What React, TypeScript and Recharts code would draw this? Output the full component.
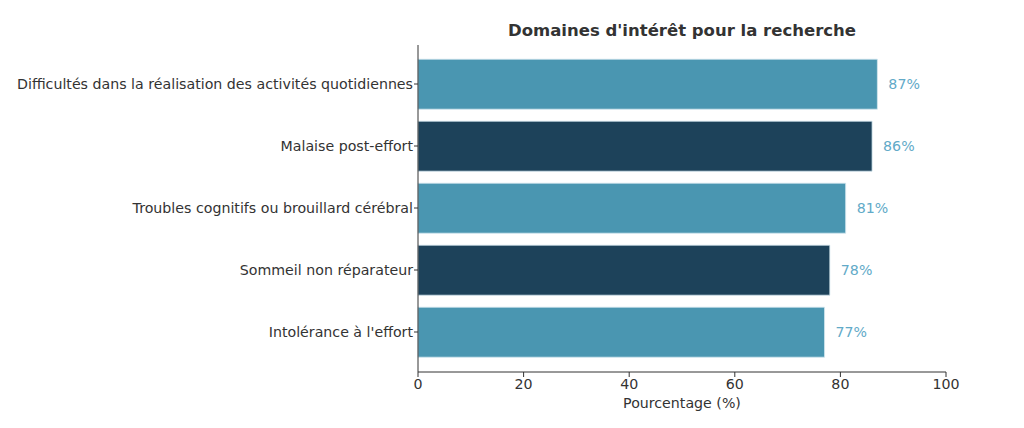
import React from "react";
import { Bar, BarChart, Cell, LabelList, XAxis, YAxis } from "recharts";

const categories = [
  "Difficultés dans la réalisation des activités quotidiennes",
  "Malaise post-effort",
  "Troubles cognitifs ou brouillard cérébral",
  "Sommeil non réparateur",
  "Intolérance à l'effort",
];
const percentages = [87, 86, 81, 78, 77];
const xTicks = [0, 20, 40, 60, 80, 100];

const palette = ["#4a96b1", "#1d425a"];
const font = "DejaVu Sans, sans-serif";

export default function App() {
  const data = categories.map((name, i) => ({ name, value: percentages[i] }));

  return (
    <div style={{ position: "absolute", left: 0, top: 0, width: 1024, height: 428, background: "#fff", fontFamily: font }}>
      <div
        style={{
          position: "absolute",
          left: 418,
          width: 528,
          top: 21,
          textAlign: "center",
          fontSize: 16.5,
          fontWeight: "bold",
          color: "#333",
        }}
      >
        Domaines d'intérêt pour la recherche
      </div>
      <BarChart
        width={1024}
        height={428}
        data={data}
        layout="vertical"
        margin={{ top: 45, right: 78, left: 0, bottom: 0 }}
        barCategoryGap="10%"
      >
        <XAxis
          type="number"
          domain={[0, 100]}
          ticks={xTicks}
          height={56}
          tick={{ fontSize: 14.2, fill: "#333", fontFamily: font }}
          tickSize={5}
          tickMargin={2}
          axisLine={{ stroke: "#333" }}
          tickLine={{ stroke: "#333" }}
          label={{
            value: "Pourcentage (%)",
            position: "insideBottom",
            offset: 20,
            fontSize: 14.2,
            fill: "#333",
            fontFamily: font,
          }}
        />
        <YAxis
          type="category"
          dataKey="name"
          width={418}
          padding={{ top: 8, bottom: 9 }}
          tick={{ fontSize: 14.2, fill: "#333", fontFamily: font }}
          tickSize={4}
          tickMargin={1}
          axisLine={{ stroke: "#333" }}
          tickLine={{ stroke: "#333" }}
        />
        <Bar dataKey="value" isAnimationActive={false} stroke="#d6e9f0" strokeWidth={0.8}>
          {data.map((d, i) => (
            <Cell key={d.name} fill={palette[i % 2]} />
          ))}
          <LabelList
            dataKey="value"
            position="right"
            offset={11}
            formatter={(v: number) => `${v}%`}
            style={{ fontSize: 14.2, fill: "#62aac8", fontFamily: font }}
          />
        </Bar>
      </BarChart>
    </div>
  );
}
